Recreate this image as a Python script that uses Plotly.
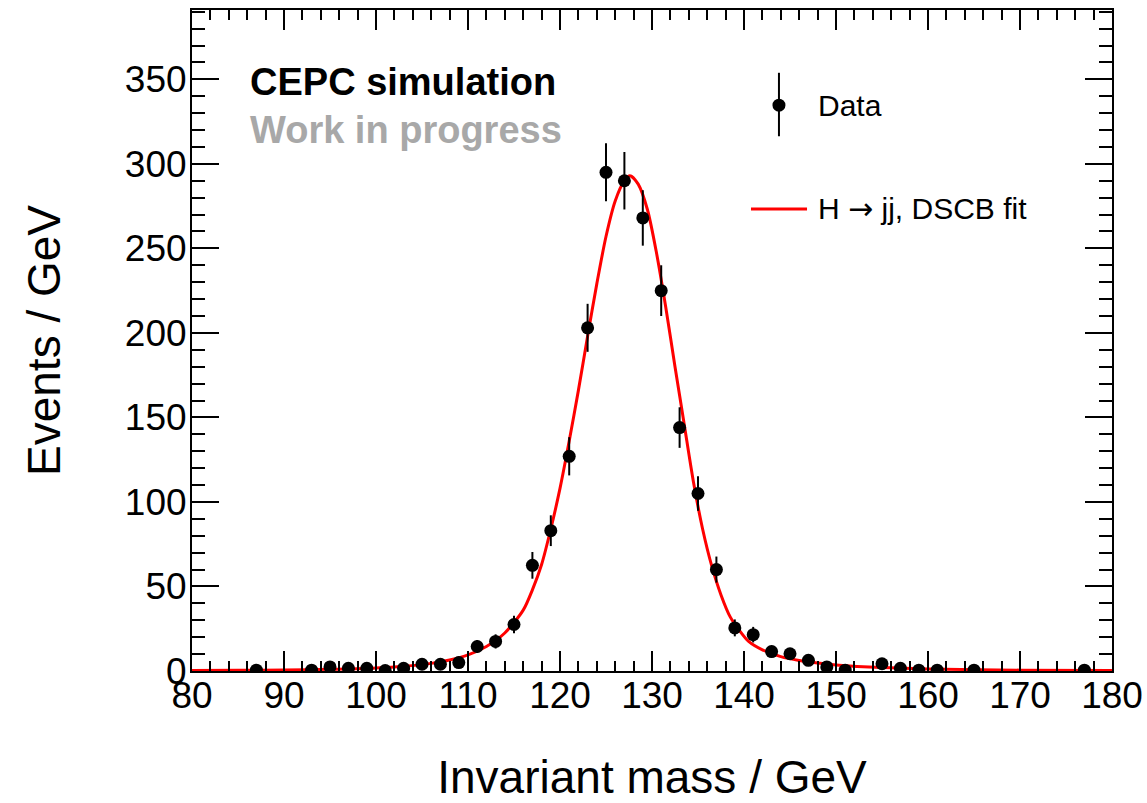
import plotly.graph_objects as go

# ---- data ----
mass_bins = [87, 93, 95, 97, 99, 101, 103, 105, 107, 109, 111, 113, 115, 117, 119,
             121, 123, 125, 127, 129, 131, 133, 135, 137, 139, 141, 143, 145, 147,
             149, 151, 155, 157, 159, 161, 165, 177]
events = [0.5, 0.5, 2.4, 1.6, 1.6, 0.3, 1.6, 4.0, 4.0, 5.0, 14.5, 17.5, 27.5, 62.5, 83,
          127, 203, 295, 290, 268, 225, 144, 105, 60, 25.5, 21.5, 11.5, 10.2, 6.3,
          2.4, 0.5, 4.3, 1.6, 0.5, 0.5, 0.5, 0.5]
event_errors = [0.7, 0.7, 1.5, 1.3, 1.3, 0.5, 1.3, 2.0, 2.0, 2.2, 3.8, 4.2, 5.2, 7.9, 9.1,
                11.3, 14.2, 17.2, 17.0, 16.4, 15.0, 12.0, 10.2, 7.7, 5.0, 4.6, 3.4, 3.2, 2.5,
                1.5, 0.7, 2.1, 1.3, 0.7, 0.7, 0.7, 0.7]

fit_mass = [80, 85, 90, 95, 100, 103, 106, 108, 110, 112, 114, 116, 117, 118, 119, 120,
            121, 122, 123, 124, 125, 126, 127, 127.6, 128.5, 129.5, 130.5, 131.5, 132.5,
            133.5, 134.5, 135.5, 136.5, 137.5, 138.5, 139.5, 140.5, 142, 144, 146, 148,
            150, 155, 160, 170, 180]
fit_events = [0.3, 0.4, 0.6, 1.0, 1.8, 2.8, 4.5, 6.5, 9.5, 14.5, 22.5, 36, 48, 63, 84, 108,
              136, 166, 198, 229, 257, 278, 290, 293, 288, 273, 247, 215, 180,
              146, 112, 84, 62, 45, 32, 24, 17.5, 12.5, 8.5, 6.2, 4.7,
              3.6, 2.0, 1.2, 0.5, 0.3]

x_range = [80, 180]
y_range = [0, 391]

FONT = "Liberation Sans, Arial, Helvetica, sans-serif"

fig = go.Figure()

fig.add_trace(go.Scatter(
    x=fit_mass, y=fit_events, mode="lines",
    line=dict(color="#ff0000", width=3, shape="spline", smoothing=0.8),
    name="H → jj, DSCB fit", showlegend=False, hoverinfo="skip",
))

fig.add_trace(go.Scatter(
    x=mass_bins, y=events, mode="markers",
    marker=dict(color="black", size=13, symbol="circle"),
    error_y=dict(type="data", array=event_errors, visible=True,
                 color="black", thickness=2, width=0),
    name="Data", showlegend=False,
))

axis_common = dict(
    showline=True, linecolor="black", linewidth=2, mirror="ticks",
    ticks="inside", tickcolor="black", tickwidth=2,
    showgrid=False, zeroline=False,
    tickfont=dict(family=FONT, size=37, color="black"),
)

fig.update_xaxes(
    range=x_range, dtick=10, tick0=80, ticklen=20, ticklabelstandoff=-9,
    minor=dict(ticks="inside", ticklen=10, dtick=2, tickcolor="black", tickwidth=2, showgrid=False),
    title=dict(text="Invariant mass / GeV", font=dict(family=FONT, size=46, color="black"), standoff=48),
    **axis_common,
)
fig.update_yaxes(
    range=y_range, dtick=50, tick0=0, ticklen=27, ticklabelstandoff=-4,
    minor=dict(ticks="inside", ticklen=13, dtick=10, tickcolor="black", tickwidth=2, showgrid=False),
    title=dict(text="Events / GeV", font=dict(family=FONT, size=46, color="black"), standoff=50),
    **axis_common,
)

# Legend glyphs (paper coordinates)
shapes = [
    dict(type="line", xref="paper", yref="paper", x0=0.638, x1=0.638, y0=0.809, y1=0.905,
         line=dict(color="black", width=2)),
    dict(type="circle", xref="paper", yref="paper", xsizemode="pixel", ysizemode="pixel",
         xanchor=0.638, yanchor=0.856, x0=-6.5, x1=6.5, y0=-6.5, y1=6.5,
         fillcolor="black", line=dict(color="black", width=0)),
    dict(type="line", xref="paper", yref="paper", x0=0.6076, x1=0.6685, y0=0.699, y1=0.699,
         line=dict(color="#ff0000", width=3)),
]

annotations = [
    dict(text="<b>CEPC simulation</b>", xref="paper", yref="paper", x=0.061, y=0.891,
         xanchor="left", yanchor="middle", showarrow=False,
         font=dict(family=FONT, size=38, color="black")),
    dict(text="<b>Work in progress</b>", xref="paper", yref="paper", x=0.061, y=0.818,
         xanchor="left", yanchor="middle", showarrow=False,
         font=dict(family=FONT, size=38, color="#a8a8a8")),
    dict(text="Data", xref="paper", yref="paper", x=0.678, y=0.856,
         xanchor="left", yanchor="middle", showarrow=False,
         font=dict(family=FONT, size=30, color="black")),
    dict(text="H <span style=\"font-family:DejaVu Sans\">→</span> jj, DSCB fit",
         xref="paper", yref="paper", x=0.678, y=0.700,
         xanchor="left", yanchor="middle", showarrow=False,
         font=dict(family=FONT, size=30, color="black")),
]

fig.update_layout(
    width=1147, height=803,
    margin=dict(l=192, r=35, t=10, b=132, autoexpand=False),
    plot_bgcolor="white", paper_bgcolor="white",
    font=dict(family=FONT, color="black"),
    shapes=shapes, annotations=annotations,
    showlegend=False,
)

fig.write_html("out.html", config={"displayModeBar": False},
               post_script="document.body.style.margin='0';")
